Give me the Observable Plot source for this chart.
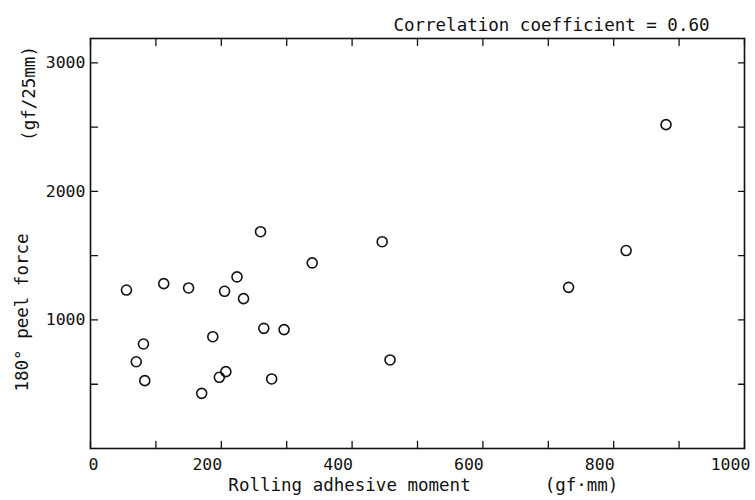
<!DOCTYPE html>
<html><head><meta charset="utf-8">
<script src="https://cdn.jsdelivr.net/npm/d3@7"></script>
<script src="https://cdn.jsdelivr.net/npm/@observablehq/plot@0.6"></script>
<style>body{margin:0;background:#fff;} #chart{width:755px;height:500px;}</style>
</head><body><div id="chart"></div>
<script>
const moment = [55, 70, 81, 83, 112, 150, 170, 187, 197, 205, 207, 224, 234, 260, 265, 277, 296, 339, 446, 458, 731, 819, 880];
const peel   = [1233, 675, 813, 528, 1283, 1249, 429, 870, 554, 1223, 598, 1335, 1166, 1687, 935, 541, 925, 1444, 1609, 689, 1254, 1540, 2520];
const xTicks = [0,100,200,300,400,500,600,700,800,900,1000];
const xLabelsFirst = [0];
const xLabelsRest = [200,400,600,800,1000];
const yTicks = [500,1000,1500,2000,2500,3000];
const yLabels = [1000,2000,3000];
const title = "Correlation coefficient = 0.60";
const xTitle = "Rolling adhesive moment";
const xUnit = "(gf·mm)";
const yTitle = "180° peel force";
const yUnit = "(gf/25mm)";

const data = moment.map((m, i) => ({moment: m, peel: peel[i]}));
const ink = "#111";
const font = "'DejaVu Sans Mono', monospace";
const fmt = d => String(d);
// straight tick shape for vectors (drawn pointing "up" before rotation)
const line = {draw(context, l) { context.moveTo(0, 0); context.lineTo(0, -l); }};

const plot = Plot.plot({
  width: 755, height: 500,
  marginLeft: 90, marginRight: 11, marginTop: 38, marginBottom: 52,
  style: {fontFamily: font, fontSize: "16px", color: ink, background: "#fff"},
  x: {domain: [0, 1000]},
  y: {domain: [0, 3190]},
  marks: [
    Plot.frame({stroke: ink, strokeWidth: 1.6}),
    // inward ticks on all four sides
    Plot.vectorX(xTicks, {x: d => d, frameAnchor: "bottom", length: 7, rotate: 0, anchor: "start", shape: line, stroke: ink, strokeWidth: 1.3}),
    Plot.vectorX(xTicks, {x: d => d, frameAnchor: "top", length: 7, rotate: 180, anchor: "start", shape: line, stroke: ink, strokeWidth: 1.3}),
    Plot.vectorY(yTicks, {y: d => d, frameAnchor: "left", length: 7, rotate: 90, anchor: "start", shape: line, stroke: ink, strokeWidth: 1.3}),
    Plot.vectorY(yTicks, {y: d => d, frameAnchor: "right", length: 6, rotate: -90, anchor: "start", shape: line, stroke: ink, strokeWidth: 1.3}),
    // tick labels
    Plot.axisX({anchor: "bottom", ticks: xLabelsFirst, tickSize: 0, tickPadding: 10, tickFormat: fmt, label: null, dx: 3, fontSize: 16.5}),
    Plot.axisX({anchor: "bottom", ticks: xLabelsRest, tickSize: 0, tickPadding: 10, tickFormat: fmt, label: null, dx: -14, fontSize: 16.5}),
    Plot.axisY({anchor: "left", ticks: yLabels, tickSize: 0, tickPadding: 5, tickFormat: fmt, label: null, fontSize: 16.5}),
    // data
    Plot.dot(data, {x: "moment", y: "peel", r: 5, stroke: ink, strokeWidth: 1.6, fill: "none"}),
    // titles
    Plot.text([title], {frameAnchor: "top-right", textAnchor: "end", dx: -35, dy: -20, fontSize: 17.5}),
    Plot.text([xTitle], {frameAnchor: "bottom-left", textAnchor: "middle", dx: 259, dy: 42, fontSize: 17.5}),
    Plot.text([xUnit], {frameAnchor: "bottom-left", textAnchor: "middle", dx: 491, dy: 42, fontSize: 17.5}),
    Plot.text([yTitle], {frameAnchor: "left", textAnchor: "middle", rotate: -90, dx: -68, dy: 69, fontSize: 17.5}),
    Plot.text([yUnit], {frameAnchor: "top-left", textAnchor: "middle", rotate: -90, dx: -68, dy: 55, fontSize: 17.5})
  ]
});
document.getElementById("chart").appendChild(plot);
</script>
</body></html>
